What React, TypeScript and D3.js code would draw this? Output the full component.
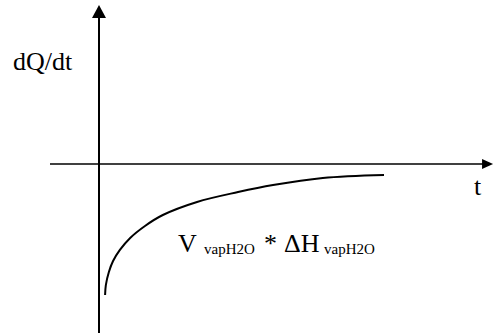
import React from "react";
import * as d3 from "d3";

// curve samples (time, heat flow)
const tValues = [1.6, 1.8, 2.6, 3.7, 5.5, 8.2, 12.1, 16.8, 25.8, 36.6, 45.8, 58.9, 75];
const qValues = [-87.3, -80.7, -72, -64.7, -57.3, -49.3, -41.3, -34, -25.3, -18.7, -14, -9.3, -7.3];

// extent of the two axes in data units
const tAxis = [-12.9, 103.7];
const qAxis = [-112.7, 106];

const labels = {
  y: "dQ/dt",
  x: "t",
  v: "V",
  dh: "\u0394H",
  sub: "vapH2O",
};

const W = 495;
const H = 333;
const SERIF = "Liberation Serif";

const App = () => {
  const x = d3.scaleLinear().domain([0, 100]).range([99, 479]);
  const y = d3.scaleLinear().domain([-100, 0]).range([314, 164]);

  const points: [number, number][] = tValues.map((t, i) => [t, qValues[i]]);
  const line = d3
    .line<[number, number]>()
    .x((d) => x(d[0]))
    .y((d) => y(d[1]))
    .curve(d3.curveCatmullRom.alpha(0.5));

  const x0 = x(0);
  const y0 = y(0);
  const xEnd = x(tAxis[1]);
  const yTop = y(qAxis[1]);

  return (
    <svg
      width={W}
      height={H}
      style={{ position: "absolute", left: 0, top: 0, background: "#fff" }}
    >
      {/* horizontal axis */}
      <line x1={x(tAxis[0])} x2={xEnd - 8} y1={y0} y2={y0} stroke="#000" strokeWidth={1.5} />
      <path d={`M${xEnd},${y0} L${xEnd - 11},${y0 - 5} L${xEnd - 11},${y0 + 5} Z`} fill="#000" />

      {/* vertical axis */}
      <line x1={x0} x2={x0} y1={y(qAxis[0])} y2={yTop + 10} stroke="#000" strokeWidth={2} />
      <path d={`M${x0},${yTop} L${x0 - 7},${yTop + 13} L${x0 + 7},${yTop + 13} Z`} fill="#000" />

      {/* curve */}
      <path d={line(points) || ""} fill="none" stroke="#000" strokeWidth={2} />

      <g style={{ fontFamily: SERIF }} fill="#000">
        <text x={13} y={70} fontSize={26}>{labels.y}</text>
        <text x={474} y={195} fontSize={26}>{labels.x}</text>
        <text y={252} fontSize={26}>
          <tspan x={178}>{labels.v}</tspan>
          <tspan x={204} dy={2} fontSize={15}>{labels.sub}</tspan>
          <tspan x={264} dy={-2}>*</tspan>
          <tspan x={284}>{labels.dh}</tspan>
          <tspan x={324} dy={2} fontSize={15}>{labels.sub}</tspan>
        </text>
      </g>
    </svg>
  );
};

export default App;
